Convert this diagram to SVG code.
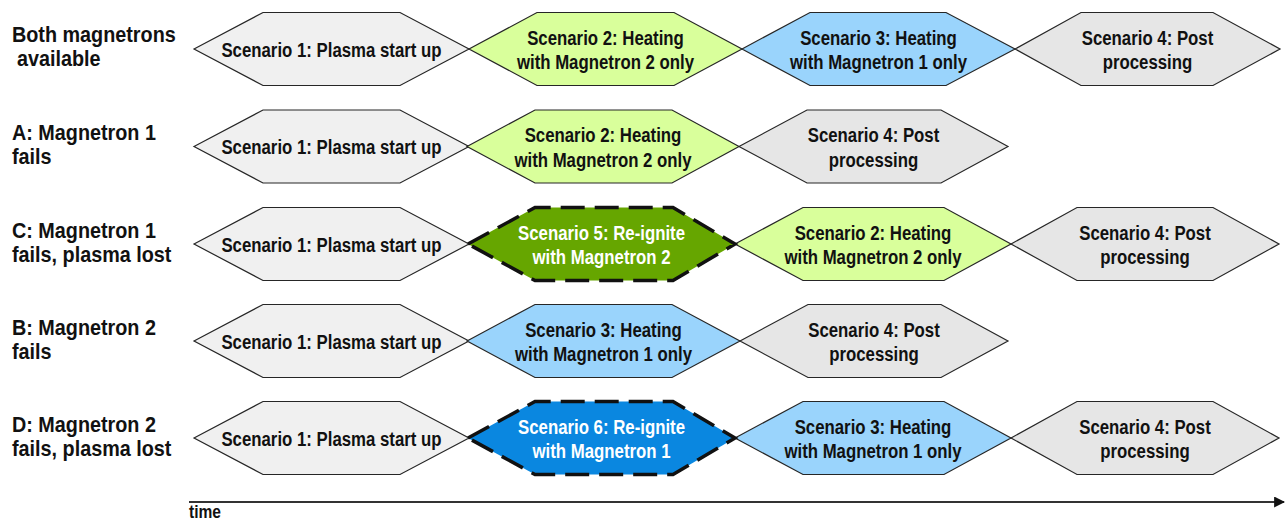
<svg xmlns="http://www.w3.org/2000/svg" width="1288" height="520" viewBox="0 0 1288 520">
<style>
.hex{stroke:#262626;stroke-width:1.2;stroke-linejoin:miter}
.s1{fill:#f0f0f0}.s4{fill:#e6e6e6}.s2{fill:#d9ff9b}.s3{fill:#9ad4fc}.s5{fill:#66a600}.s6{fill:#0a87e0}
.dash{stroke:#111;stroke-width:3.5;stroke-dasharray:24 10}
text{font-family:"Liberation Sans Narrow","Arial Narrow","Liberation Sans",sans-serif;font-weight:bold;fill:#111}
.t{font-size:21px;text-anchor:middle}
.w{fill:#fff}
.lbl{font-size:22px}
</style>
<defs>
<marker id="arr" viewBox="0 0 10 10" refX="9" refY="5" markerWidth="11" markerHeight="11" markerUnits="userSpaceOnUse" orient="auto"><path d="M0,0 L10,5 L0,10 Z" fill="#111"/></marker>
</defs>

<!-- Row labels -->
<g id="label-both"><text class="lbl" transform="translate(12 41.5) scale(.9 1)">Both magnetrons</text><text class="lbl" transform="translate(17 65.5) scale(.9 1)">available</text></g>
<g id="label-a"><text class="lbl" transform="translate(12 139.5) scale(.9 1)">A: Magnetron 1</text><text class="lbl" transform="translate(12 163.5) scale(.9 1)">fails</text></g>
<g id="label-c"><text class="lbl" transform="translate(12 237.5) scale(.9 1)">C: Magnetron 1</text><text class="lbl" transform="translate(12 261.5) scale(.9 1)">fails, plasma lost</text></g>
<g id="label-b"><text class="lbl" transform="translate(12 334.5) scale(.9 1)">B: Magnetron 2</text><text class="lbl" transform="translate(12 358.5) scale(.9 1)">fails</text></g>
<g id="label-d"><text class="lbl" transform="translate(12 431.5) scale(.9 1)">D: Magnetron 2</text><text class="lbl" transform="translate(12 455.5) scale(.9 1)">fails, plasma lost</text></g>

<!-- Row 1 (cy 49) -->
<g id="r1-s1"><polygon class="hex s1" points="194,49 263,12.5 400,12.5 469,49 400,85.5 263,85.5"/><text class="t" transform="translate(331.5 56.5) scale(.8 1)">Scenario 1: Plasma start up</text></g>
<g id="r1-s2"><polygon class="hex s2" points="469,49 537,12.5 674,12.5 742,49 674,85.5 537,85.5"/><text class="t" transform="translate(605.5 44.5) scale(.8 1)">Scenario 2: Heating</text><text class="t" transform="translate(605.5 69) scale(.8 1)">with Magnetron 2 only</text></g>
<g id="r1-s3"><polygon class="hex s3" points="742,49 810,12.5 946,12.5 1015,49 946,85.5 810,85.5"/><text class="t" transform="translate(878.5 44.5) scale(.8 1)">Scenario 3: Heating</text><text class="t" transform="translate(878.5 69) scale(.8 1)">with Magnetron 1 only</text></g>
<g id="r1-s4"><polygon class="hex s4" points="1015,49 1081,12.5 1213,12.5 1280,49 1213,85.5 1081,85.5"/><text class="t" transform="translate(1147.5 44.5) scale(.8 1)">Scenario 4: Post</text><text class="t" transform="translate(1147.5 69) scale(.8 1)">processing</text></g>

<!-- Row A (cy 146.5) -->
<g id="ra-s1"><polygon class="hex s1" points="194,146.5 263,110 400,110 469,146.5 400,183 263,183"/><text class="t" transform="translate(331.5 154) scale(.8 1)">Scenario 1: Plasma start up</text></g>
<g id="ra-s2"><polygon class="hex s2" points="467,146.5 535,110 672,110 739,146.5 672,183 535,183"/><text class="t" transform="translate(603 142) scale(.8 1)">Scenario 2: Heating</text><text class="t" transform="translate(603 166.5) scale(.8 1)">with Magnetron 2 only</text></g>
<g id="ra-s4"><polygon class="hex s4" points="739,146.5 807,110 941,110 1008,146.5 941,183 807,183"/><text class="t" transform="translate(873.5 142) scale(.8 1)">Scenario 4: Post</text><text class="t" transform="translate(873.5 166.5) scale(.8 1)">processing</text></g>

<!-- Row C (cy 244) -->
<g id="rc-s1"><polygon class="hex s1" points="194,244 263,207.5 400,207.5 469,244 400,280.5 263,280.5"/><text class="t" transform="translate(331.5 251.5) scale(.8 1)">Scenario 1: Plasma start up</text></g>
<g id="rc-s2"><polygon class="hex s2" points="735,244 803,207.5 944,207.5 1011,244 944,280.5 803,280.5"/><text class="t" transform="translate(873 239.5) scale(.8 1)">Scenario 2: Heating</text><text class="t" transform="translate(873 264) scale(.8 1)">with Magnetron 2 only</text></g>
<g id="rc-s4"><polygon class="hex s4" points="1011,244 1077,207.5 1213,207.5 1279,244 1213,280.5 1077,280.5"/><text class="t" transform="translate(1145 239.5) scale(.8 1)">Scenario 4: Post</text><text class="t" transform="translate(1145 264) scale(.8 1)">processing</text></g>
<g id="rc-s5"><polygon class="s5 dash" points="468,244 535,207.5 673,207.5 735,244 673,280.5 535,280.5"/><text class="t w" transform="translate(601.5 239.5) scale(.8 1)">Scenario 5: Re-ignite</text><text class="t w" transform="translate(601.5 264) scale(.8 1)">with Magnetron 2</text></g>

<!-- Row B (cy 341) -->
<g id="rb-s1"><polygon class="hex s1" points="194,341 263,304.5 400,304.5 469,341 400,377.5 263,377.5"/><text class="t" transform="translate(331.5 348.5) scale(.8 1)">Scenario 1: Plasma start up</text></g>
<g id="rb-s3"><polygon class="hex s3" points="467,341 535,304.5 672,304.5 740,341 672,377.5 535,377.5"/><text class="t" transform="translate(603.5 336.5) scale(.8 1)">Scenario 3: Heating</text><text class="t" transform="translate(603.5 361) scale(.8 1)">with Magnetron 1 only</text></g>
<g id="rb-s4"><polygon class="hex s4" points="740,341 808,304.5 941,304.5 1008,341 941,377.5 808,377.5"/><text class="t" transform="translate(874 336.5) scale(.8 1)">Scenario 4: Post</text><text class="t" transform="translate(874 361) scale(.8 1)">processing</text></g>

<!-- Row D (cy 438) -->
<g id="rd-s1"><polygon class="hex s1" points="194,438 263,401.5 400,401.5 469,438 400,474.5 263,474.5"/><text class="t" transform="translate(331.5 445.5) scale(.8 1)">Scenario 1: Plasma start up</text></g>
<g id="rd-s3"><polygon class="hex s3" points="735,438 803,401.5 944,401.5 1011,438 944,474.5 803,474.5"/><text class="t" transform="translate(873 433.5) scale(.8 1)">Scenario 3: Heating</text><text class="t" transform="translate(873 458) scale(.8 1)">with Magnetron 1 only</text></g>
<g id="rd-s4"><polygon class="hex s4" points="1011,438 1077,401.5 1213,401.5 1279,438 1213,474.5 1077,474.5"/><text class="t" transform="translate(1145 433.5) scale(.8 1)">Scenario 4: Post</text><text class="t" transform="translate(1145 458) scale(.8 1)">processing</text></g>
<g id="rd-s6"><polygon class="s6 dash" points="468,438 535,401.5 673,401.5 735,438 673,474.5 535,474.5"/><text class="t w" transform="translate(601.5 433.5) scale(.8 1)">Scenario 6: Re-ignite</text><text class="t w" transform="translate(601.5 458) scale(.8 1)">with Magnetron 1</text></g>

<!-- Time axis -->
<g id="connectors"><line x1="189" y1="502" x2="1284" y2="502" stroke="#333" stroke-width="1.8" marker-end="url(#arr)"/></g>
<g id="time-label"><text transform="translate(189 518) scale(.82 1)" style="font-size:19px">time</text></g>
</svg>
